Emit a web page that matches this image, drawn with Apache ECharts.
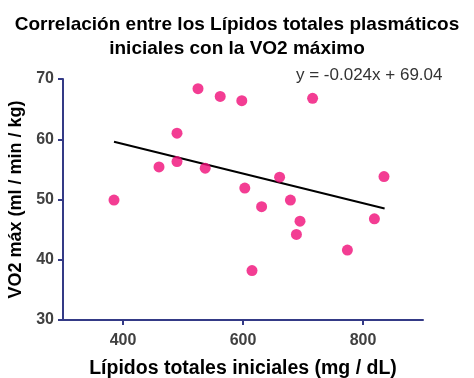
<!DOCTYPE html>
<html><head><meta charset="utf-8">
<script src="https://cdn.jsdelivr.net/npm/echarts@6/dist/echarts.min.js"></script>
<style>html,body{margin:0;padding:0;background:#fff}#c{width:474px;height:378px}</style>
</head><body><div id="c"></div>
<script>
var lipidos = [385, 460, 490, 490, 525, 537, 562, 598, 603, 615, 631, 661, 679, 695, 689, 716, 774, 819, 835];
var vo2 = [49.9, 55.4, 61.0, 56.3, 68.4, 55.2, 67.1, 66.4, 51.9, 38.2, 48.8, 53.7, 49.9, 46.4, 44.2, 66.8, 41.6, 46.8, 53.8];
var trendX = [385, 836];
var trendY = [59.6, 48.5];
var xTicks = [400, 600, 800];
var yTicks = [30, 40, 50, 60, 70];
var titleText = 'Correlación entre los Lípidos totales plasmáticos\niniciales con la VO2 máximo';
var xName = 'Lípidos totales iniciales (mg / dL)';
var yName = 'VO2 máx (ml / min / kg)';
var eqText = 'y = -0.024x + 69.04';

var pts = lipidos.map(function(v, i){ return [v, vo2[i]]; });
var line = trendX.map(function(v, i){ return [v, trendY[i]]; });
var axisColor = '#343a86';
var font = 'Liberation Sans, Arial, sans-serif';
var chart = echarts.init(document.getElementById('c'));
chart.setOption({
  animation: false,
  title: {
    text: titleText, left: 'center', top: 8,
    textStyle: { fontFamily: font, fontWeight: 'bold', fontSize: 19, color: '#000', lineHeight: 24 }
  },
  grid: { left: 63, right: 51, top: 79, bottom: 58, containLabel: false, outerBoundsMode: 'none' },
  xAxis: {
    type: 'value', min: 300, max: 900,
    splitLine: { show: false },
    axisLine: { lineStyle: { color: axisColor, width: 2 } },
    axisTick: { length: 5, lineStyle: { color: axisColor, width: 2 }, customValues: xTicks },
    axisLabel: { customValues: xTicks, margin: 13, fontFamily: font, fontWeight: 'bold', fontSize: 16, color: '#404040' },
    name: xName, nameLocation: 'middle', nameGap: 39,
    nameTextStyle: { fontFamily: font, fontWeight: 'bold', fontSize: 19.5, color: '#000' }
  },
  yAxis: {
    type: 'value', min: 30, max: 70, interval: 10,
    splitLine: { show: false },
    axisLine: { show: true, lineStyle: { color: axisColor, width: 2 } },
    axisTick: { show: true, length: 5, lineStyle: { color: axisColor, width: 2 } },
    axisLabel: { margin: 9, fontFamily: font, fontWeight: 'bold', fontSize: 16, color: '#404040' },
    name: yName, nameLocation: 'middle', nameGap: 36, nameRotate: 90,
    nameTextStyle: { fontFamily: font, fontWeight: 'bold', fontSize: 18, color: '#000' }
  },
  graphic: [{
    type: 'text', left: 296, top: 67,
    style: { text: eqText, fontFamily: font, fontSize: 17, fill: '#333' }
  }],
  series: [{
    type: 'line', data: line, symbol: 'none', silent: true,
    lineStyle: { color: '#000', width: 2 }, z: 2
  }, {
    type: 'scatter', data: pts, symbol: 'circle', symbolSize: 11,
    itemStyle: { color: '#f00c78' }, z: 3
  }]
});
</script></body></html>
